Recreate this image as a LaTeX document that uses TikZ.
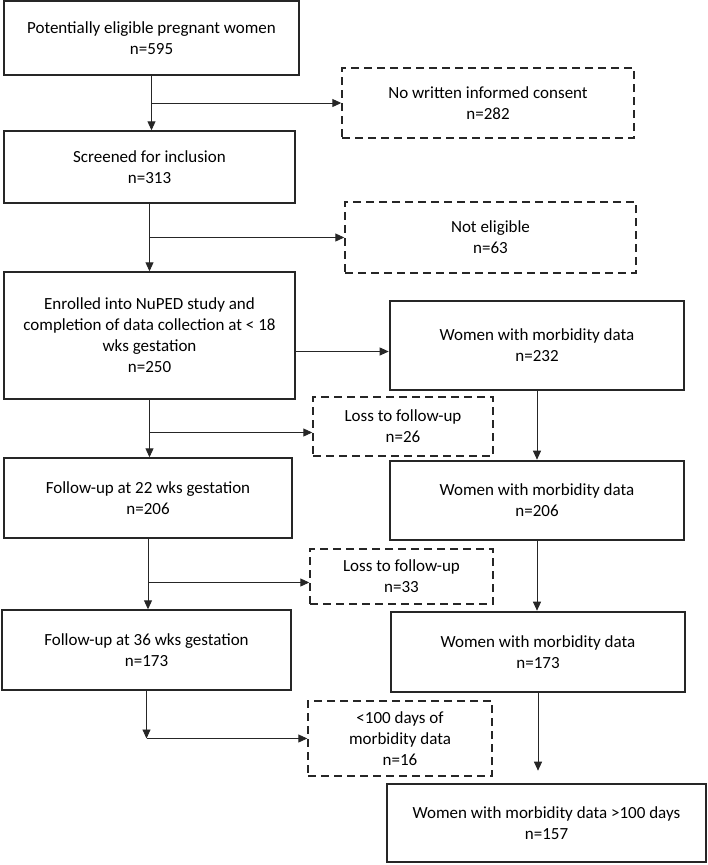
\documentclass[tikz,border=0pt]{standalone}
\usepackage{fontspec}
\setmainfont{Carlito}
\usetikzlibrary{arrows.meta}

\begin{document}
\begin{tikzpicture}[x=1pt,y=-1pt,
  box/.style={draw=black!85, line width=1.4pt, align=center, inner sep=0pt, font=\fontsize{17}{21}\selectfont},
  lost/.style={box, dash pattern=on 8pt off 5pt},
  keep/.style={box, line width=2.6pt},
  flow/.style={draw=black!85, line width=0.9pt, -{Triangle[length=9pt,width=8pt]}}]
  \useasboundingbox (0,0) rectangle (708,865);
  % boxes: name/centre x/centre y/width/height/style/text
  \foreach \nm/\cx/\cy/\w/\h/\sty/\txt in {
      pot/151.5/38/295/74/box/{Potentially eligible pregnant women\\n=595},
      nocons/488/103/292/70/lost/{No written informed consent\\n=282},
      scr/149.5/167/291/72/box/{Screened for inclusion\\n=313},
      noel/490.5/237.5/291/71/lost/{Not eligible\\n=63},
      enr/149.5/335.5/291/127/box/{Enrolled into NuPED study and\\completion of data collection at < 18\\wks gestation\\n=250},
      mb1/537/345.5/294/89/keep/{Women with morbidity data\\n=232},
      loss1/403/426.5/180/59/lost/{Loss to follow-up\\n=26},
      fu22/148/498/288/80/box/{Follow-up at 22 wks gestation\\n=206},
      mb2/537/500.5/294/79/keep/{Women with morbidity data\\n=206},
      loss2/401.5/576.5/183/55/lost/{Loss to follow-up\\n=33},
      fu36/146.5/650/289/80/box/{Follow-up at 36 wks gestation\\n=173},
      mb3/538/652/294/80/keep/{Women with morbidity data\\n=173},
      few/400/738.5/184/75/lost/{<100 days of\\morbidity data\\n=16},
      mb4/546.5/823/319/78/keep/{Women with morbidity data >100 days\\n=157}}
    \node[\sty, minimum width=\w pt, minimum height=\h pt] (\nm) at (\cx,\cy) {\txt};
  % arrow ends a little below the box centre
  \coordinate (in1) at ([yshift=-6pt]mb1.west);
  \coordinate (in2) at ([yshift=-6pt]loss1.west);
  \coordinate (in3) at ([yshift=-6pt]loss2.west);
  % connectors
  \draw[flow] (pot.south) -- (pot.south |- scr.north);
  \draw[flow] (pot.south |- nocons.west) -- (nocons.west);
  \draw[flow] (scr.south) -- (scr.south |- enr.north);
  \draw[flow] (scr.south |- noel.west) -- (noel.west);
  \draw[flow] (enr.east |- in1) -- (in1);
  \draw[flow] (enr.south) -- (enr.south |- fu22.north);
  \draw[flow] (enr.south |- in2) -- (in2);
  \draw[flow] (mb1.south) -- (mb1.south |- mb2.north);
  \draw[flow] (fu22.south) -- (fu22.south |- fu36.north);
  \draw[flow] (fu22.south |- in3) -- (in3);
  \draw[flow] (mb2.south) -- (mb2.south |- mb3.north);
  \draw[flow] (fu36.south) -- (fu36.south |- few.west);
  \draw[flow] (fu36.south |- few.west) -- (few.west);
  \draw[flow, shorten >=12pt] (mb3.south) -- (mb3.south |- mb4.north);
\end{tikzpicture}
\end{document}
